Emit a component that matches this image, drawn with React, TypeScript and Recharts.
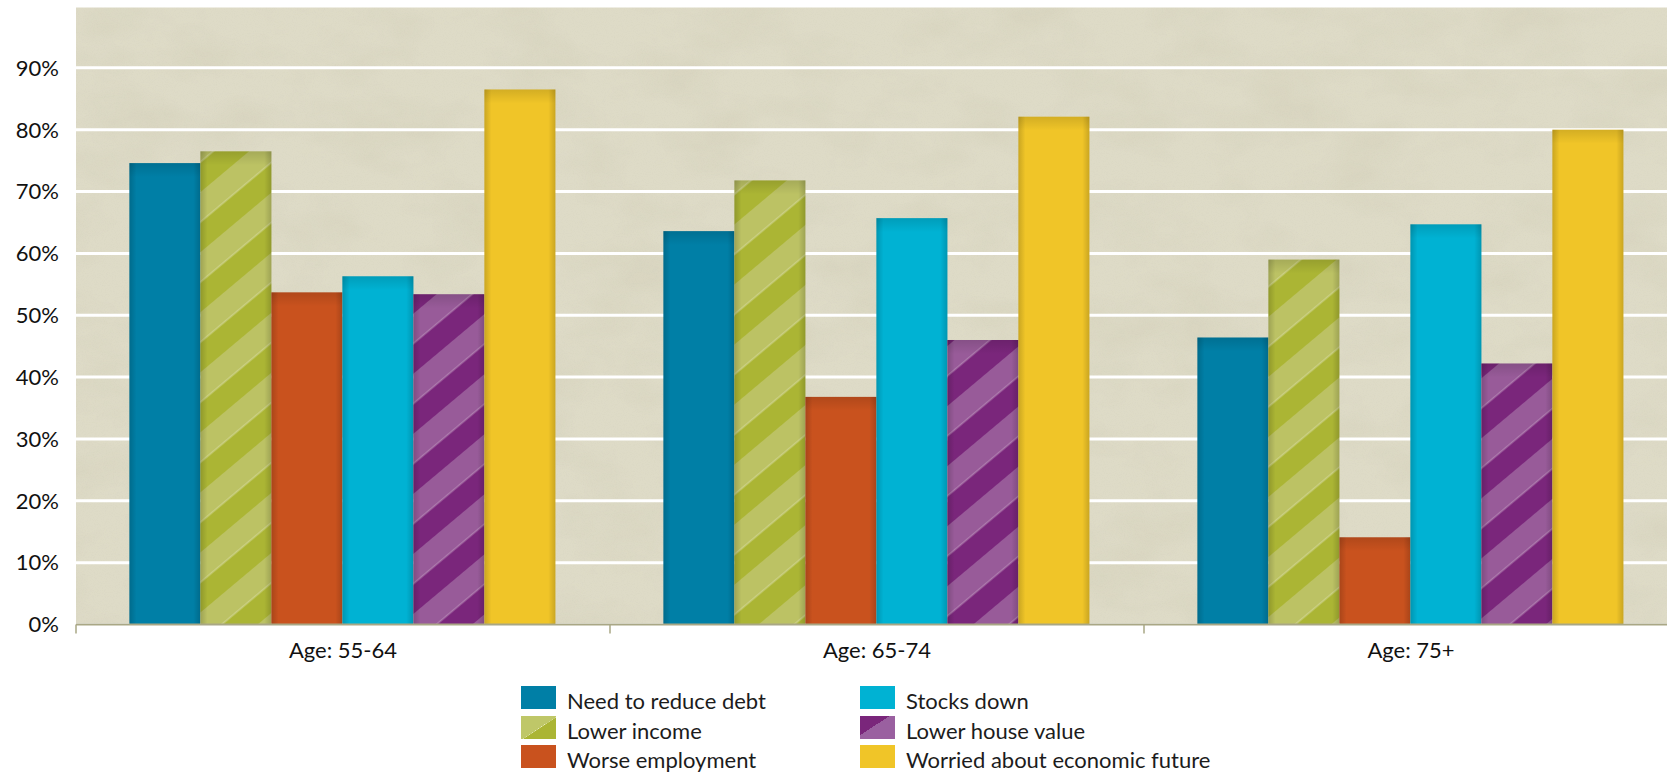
import React from "react";
import { BarChart, Bar, XAxis, YAxis, CartesianGrid } from "recharts";

const categories = ["Age: 55-64", "Age: 65-74", "Age: 75+"];
const needToReduceDebt = [74.6, 63.6, 46.4];
const lowerIncome = [76.5, 71.8, 59.0];
const worseEmployment = [53.7, 36.8, 14.1];
const stocksDown = [56.3, 65.7, 64.7];
const lowerHouseValue = [53.4, 46.0, 42.2];
const worriedAboutFuture = [86.5, 82.1, 80.0];

const yTicks = [0, 10, 20, 30, 40, 50, 60, 70, 80, 90];

const seriesNames = [
  "Need to reduce debt",
  "Lower income",
  "Worse employment",
  "Stocks down",
  "Lower house value",
  "Worried about economic future",
];
const seriesKeys = ["debt", "income", "employment", "stocks", "house", "worried"];
const seriesFills = [
  "#007fa6",
  "url(#stripeGreen)",
  "#c9521e",
  "#00b2d3",
  "url(#stripePurple)",
  "#f0c528",
];
const legendFills = [
  "#007fa6",
  "url(#legendGreen)",
  "#c9521e",
  "#00b2d3",
  "url(#legendPurple)",
  "#f0c528",
];

const seriesValues = [
  needToReduceDebt,
  lowerIncome,
  worseEmployment,
  stocksDown,
  lowerHouseValue,
  worriedAboutFuture,
];

const data = categories.map((c, i) => {
  const row: Record<string, string | number> = { category: c };
  seriesKeys.forEach((k, s) => {
    row[k] = seriesValues[s][i];
  });
  return row;
});

const FONT = "Lato, 'Open Sans', sans-serif";
const Y_AXIS_WIDTH = 76;

const BarShape = (props: any) => {
  const { x, y, width, height, fill } = props;
  if (!height || height <= 0) return null;
  return (
    <g>
      <rect x={x} y={y} width={width} height={height} fill={fill} />
      <rect x={x} y={y} width={width} height={height} fill="url(#edgeShadeH)" />
      <rect x={x} y={y} width={width} height={Math.min(height, 14)} fill="url(#edgeShadeV)" />
    </g>
  );
};

const XTick = (props: any) => {
  const { x, y, payload, index } = props;
  const i = index ?? payload.index ?? 0;
  const band = (x - Y_AXIS_WIDTH) / (i + 0.5);
  const bx = Y_AXIS_WIDTH + i * band;
  return (
    <g>
      <line x1={bx} x2={bx} y1={y - 18} y2={y - 9} stroke="#a9a785" strokeWidth={1.5} />
      <text
        x={x}
        y={y}
        dy="0.71em"
        textAnchor="middle"
        fontSize={22}
        fill="#111"
        fontFamily={FONT}
      >
        {payload.value}
      </text>
    </g>
  );
};

export default function App() {
  return (
    <div
      style={{
        position: "fixed",
        left: 0,
        top: 0,
        width: 1667,
        height: 773,
        overflow: "hidden",
        background: "#fff",
        fontFamily: FONT,
      }}
    >
      <BarChart
        width={1678}
        height={773}
        data={data}
        margin={{ top: 6, right: 0, bottom: 108.5, left: 0 }}
        barCategoryGap="10%"
        barGap={0}
      >
        <defs>
          <pattern
            id="stripeGreen"
            patternUnits="userSpaceOnUse"
            width="46"
            height="46"
            patternTransform="rotate(50)"
          >
            <rect width="46" height="46" fill="#abb534" />
            <rect x="0" width="23" height="46" fill="#bcc264" />
            <line x1="23" y1="0" x2="23" y2="46" stroke="rgba(255,255,255,0.55)" strokeWidth="0.8" />
          </pattern>
          <pattern
            id="stripePurple"
            patternUnits="userSpaceOnUse"
            width="46"
            height="46"
            patternTransform="rotate(50)"
          >
            <rect width="46" height="46" fill="#7a267b" />
            <rect x="0" width="23" height="46" fill="#985b99" />
            <line x1="23" y1="0" x2="23" y2="46" stroke="rgba(255,255,255,0.5)" strokeWidth="0.8" />
          </pattern>
          <linearGradient id="legendGreen" x1="0" y1="0" x2="1" y2="1">
            <stop offset="0.52" stopColor="#bfc768" />
            <stop offset="0.52" stopColor="#e8ecc0" />
            <stop offset="0.54" stopColor="#abb534" />
          </linearGradient>
          <linearGradient id="legendPurple" x1="0" y1="0" x2="1" y2="1">
            <stop offset="0.42" stopColor="#7a267b" />
            <stop offset="0.42" stopColor="#9a60a0" />
          </linearGradient>
          <linearGradient id="edgeShadeH" x1="0" y1="0" x2="1" y2="0">
            <stop offset="0" stopColor="#000" stopOpacity="0.16" />
            <stop offset="0.1" stopColor="#000" stopOpacity="0" />
            <stop offset="0.9" stopColor="#000" stopOpacity="0" />
            <stop offset="1" stopColor="#000" stopOpacity="0.16" />
          </linearGradient>
          <linearGradient id="edgeShadeV" x1="0" y1="0" x2="0" y2="1">
            <stop offset="0" stopColor="#000" stopOpacity="0.12" />
            <stop offset="1" stopColor="#000" stopOpacity="0" />
          </linearGradient>
          <filter id="paperNoise" x="0" y="0" width="1" height="1">
            <feTurbulence type="fractalNoise" baseFrequency="0.012 0.02" numOctaves="4" seed="11" />
            <feColorMatrix
              type="matrix"
              values="0 0 0 0 0.55  0 0 0 0 0.52  0 0 0 0 0.38  0 0 0 2.2 -0.85"
            />
          </filter>
          <filter id="paperGrain" x="0" y="0" width="1" height="1">
            <feTurbulence type="fractalNoise" baseFrequency="0.9" numOctaves="2" seed="3" />
            <feColorMatrix
              type="matrix"
              values="0 0 0 0 0.5  0 0 0 0 0.48  0 0 0 0 0.36  0 0 0 1.4 -0.6"
            />
          </filter>
          <pattern id="paper" patternUnits="userSpaceOnUse" width="1700" height="700">
            <rect width="1700" height="700" fill="#dedbc7" />
            <rect width="1700" height="700" filter="url(#paperNoise)" opacity="0.2" />
            <rect width="1700" height="700" filter="url(#paperGrain)" opacity="0.15" />
          </pattern>
        </defs>
        <CartesianGrid
          vertical={false}
          stroke="#ffffff"
          strokeWidth={3}
          fill="url(#paper)"
          fillOpacity={1}
        />
        <XAxis
          dataKey="category"
          height={40}
          tickLine={false}
          tickSize={8}
          tickMargin={10}
          axisLine={{ stroke: "#a9a785", strokeWidth: 2 }}
          tick={<XTick />}
          interval={0}
        />
        <YAxis
          width={Y_AXIS_WIDTH}
          domain={[0, 100]}
          ticks={yTicks}
          tickFormatter={(v: number) => `${v}%`}
          axisLine={false}
          tickLine={false}
          tickSize={0}
          tickMargin={17}
          tick={{ fontSize: 22, fill: "#111", fontFamily: FONT }}
          allowDataOverflow
        />
        {seriesKeys.map((k, s) => (
          <Bar
            key={k}
            dataKey={k}
            name={seriesNames[s]}
            fill={seriesFills[s]}
            shape={<BarShape />}
            isAnimationActive={false}
          />
        ))}
      </BarChart>
      <div style={{ position: "absolute", left: 0, top: 0 }}>
        {seriesNames.map((name, s) => {
          const col = s < 3 ? 0 : 1;
          const row = s % 3;
          const left = col === 0 ? 521 : 860;
          const top = [686, 716, 745][row];
          return (
            <div key={name}>
              <svg
                width={35}
                height={23}
                style={{ position: "absolute", left, top, display: "block" }}
              >
                <rect width={35} height={23} fill={legendFills[s]} />
              </svg>
              <div
                style={{
                  position: "absolute",
                  left: left + 46,
                  top: top + 3,
                  fontSize: 22,
                  lineHeight: "23px",
                  color: "#1c1c1c",
                  whiteSpace: "nowrap",
                  fontFamily: FONT,
                }}
              >
                {name}
              </div>
            </div>
          );
        })}
      </div>
    </div>
  );
}
